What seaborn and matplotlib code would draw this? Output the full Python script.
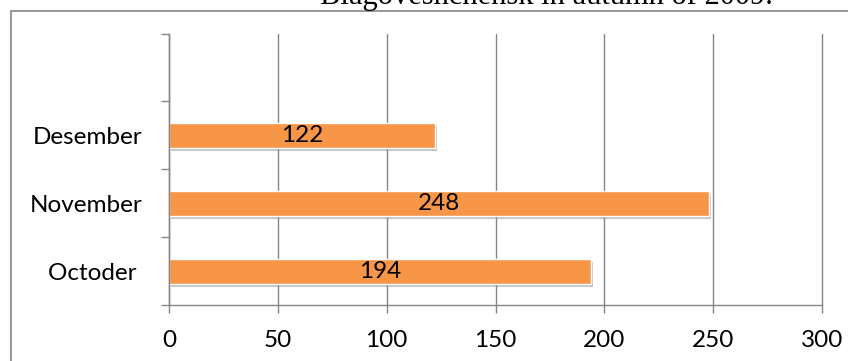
import matplotlib
matplotlib.use("Agg")
import matplotlib.pyplot as plt
import matplotlib.patches as mpatches
import matplotlib.patheffects as pe
from matplotlib.ticker import FixedLocator
import seaborn as sns
import pandas as pd

months = ["Desember", "November", "Octoder "]
values = [122, 248, 194]
xticks = [0, 50, 100, 150, 200, 250, 300]
title = "Blagoveshchensk in autumn of 2009."

sns.set_theme(style="white")
plt.rcParams["font.family"] = ["Lato", "DejaVu Sans"]

BAR = "#F79646"
GRID = "#868686"
FS = 17.5

fig = plt.figure(figsize=(8.48, 3.61), dpi=100)
ax = fig.add_axes([169 / 848, 1 - 305 / 361, (822 - 169) / 848, (305 - 33.5) / 361])

df = pd.DataFrame({"month": months, "value": values})
sns.barplot(data=df, x="value", y="month", order=months, orient="h",
            color=BAR, saturation=1, width=0.37, ax=ax,
            edgecolor="white", linewidth=1.0)

for p in ax.patches:
    p.set_path_effects([pe.SimplePatchShadow(offset=(1.5, -2.5), shadow_rgbFace="#8a8a8a", alpha=0.5),
                        pe.Normal()])

for c in ax.containers:
    ax.bar_label(c, label_type="center", fontsize=FS, color="black")

ax.set_xlim(0, 300)
ax.set_ylim(2.5, -1.5)
ax.set_xticks(xticks)
ax.set_xlabel("")
ax.set_ylabel("")

ax.grid(axis="x", color=GRID, linewidth=1.0)
ax.grid(axis="y", visible=False)
ax.set_axisbelow(True)
for gl in ax.get_xgridlines():
    gl.set_clip_on(False)

for s in ["top", "right"]:
    ax.spines[s].set_visible(False)
for s in ["left", "bottom"]:
    ax.spines[s].set_visible(True)
    ax.spines[s].set_color(GRID)
    ax.spines[s].set_linewidth(1.0)

ax.tick_params(axis="x", bottom=True, length=6, width=1.0, color=GRID,
               direction="out", pad=12, labelsize=FS, labelcolor="black")
ax.tick_params(axis="y", which="major", left=False, length=0, pad=19,
               labelsize=FS, labelcolor="black")
ax.yaxis.set_minor_locator(FixedLocator([-1.5, -0.5, 0.5, 1.5, 2.5]))
ax.tick_params(axis="y", which="minor", left=True, length=6, width=1.0,
               color=GRID, direction="out")

# outer frame
frame = mpatches.Rectangle((10.5 / 848, -0.05), 1.2, 1 - 11 / 361 + 0.05,
                           transform=fig.transFigure, fill=False,
                           edgecolor="#888888", linewidth=1.2, clip_on=False)
fig.patches.append(frame)

fig.text(320 / 848, 1 - 4 / 361, title, family="Liberation Serif",
         fontsize=22, ha="left", va="baseline", color="black")

fig.savefig("out.png", dpi=100)
